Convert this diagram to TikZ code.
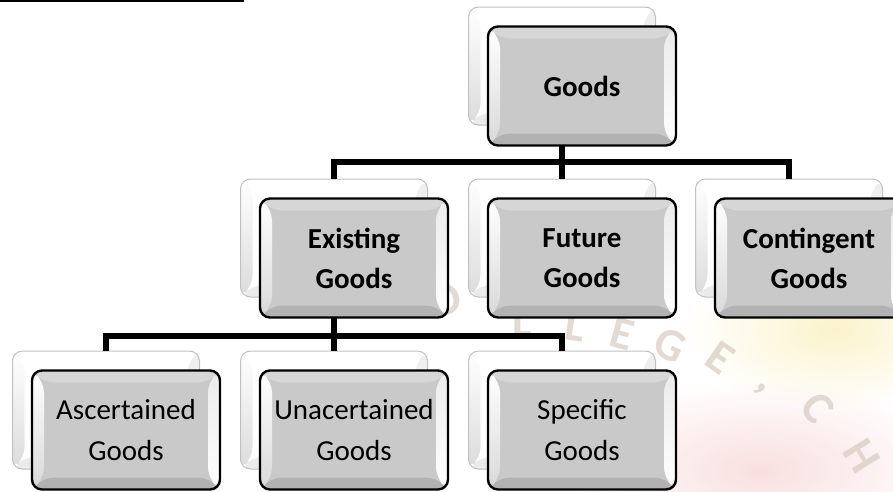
\documentclass[tikz,border=0pt]{standalone}
\usepackage{fontspec}
\setmainfont{Carlito}
\usetikzlibrary{calc,fadings}
\definecolor{face}{HTML}{C9C9C9}
\definecolor{bandtop}{HTML}{D6D6D6}
\definecolor{bandbot}{HTML}{B2B2B2}
\definecolor{backedge}{HTML}{C0C0C0}
\definecolor{wmark}{HTML}{D6CBC0}
\definecolor{wmpink}{HTML}{F6D2D2}
\definecolor{wmyellow}{HTML}{FBF3CC}
\tikzfading[name=softcirc, inner color=transparent!0, outer color=transparent!100]
\tikzset{
  bevelfront/.style={path picture={
    \coordinate (nw) at (path picture bounding box.north west);
    \coordinate (ne) at (path picture bounding box.north east);
    \coordinate (sw) at (path picture bounding box.south west);
    \coordinate (se) at (path picture bounding box.south east);
    \fill[bandtop] (nw) -- (ne) -- ([shift={(-12,12)}]ne) -- ([shift={(12,12)}]nw) -- cycle;
    \fill[bandbot] (sw) -- (se) -- ([shift={(-12,-12)}]se) -- ([shift={(12,-12)}]sw) -- cycle;
    \shade[top color=white, bottom color=black!15] (nw) -- (sw) -- ([shift={(12,-12)}]sw) -- ([shift={(12,12)}]nw) -- cycle;
    \shade[top color=black!8, bottom color=white] (ne) -- (se) -- ([shift={(-12,-12)}]se) -- ([shift={(-12,12)}]ne) -- cycle;
  }},
  bevelback/.style={path picture={
    \coordinate (nw) at (path picture bounding box.north west);
    \coordinate (ne) at (path picture bounding box.north east);
    \coordinate (sw) at (path picture bounding box.south west);
    \coordinate (se) at (path picture bounding box.south east);
    \fill[black!8] (sw) -- (se) -- ([shift={(-12,-12)}]se) -- ([shift={(12,-12)}]sw) -- cycle;
    \shade[top color=white, bottom color=black!14] (nw) -- (sw) -- ([shift={(12,-12)}]sw) -- ([shift={(12,12)}]nw) -- cycle;
    \shade[top color=black!7, bottom color=white] (ne) -- (se) -- ([shift={(-12,-12)}]se) -- ([shift={(-12,12)}]ne) -- cycle;
  }},
  frontbox/.style={rectangle, rounded corners=10pt, minimum width=188pt, minimum height=119pt,
    inner sep=0pt, fill=face, draw=black, line width=2.4pt, align=center, bevelfront,
    font=\fontsize{29}{41}\selectfont},
  boldbox/.style={frontbox, font=\bfseries\fontsize{29}{40}\selectfont},
  backbox/.style={rectangle, rounded corners=10pt, minimum width=187pt, minimum height=118pt,
    inner sep=0pt, fill=white, draw=backedge, line width=1pt, bevelback},
  link/.style={draw=black, line width=5.5pt},
  wm/.style={text=wmark, inner sep=0pt, font=\bfseries\fontsize{46}{46}\selectfont, opacity=0.7}
}
\begin{document}
\begin{tikzpicture}[x=1pt,y=-1pt]
\useasboundingbox (0,0) rectangle (893,491);
\clip (0,0) rectangle (893,491);
% faint watermark background
\fill[wmyellow, path fading=softcirc] (835,330) ellipse (150 and 80);
\fill[wmpink, opacity=0.7, path fading=softcirc] (760,470) ellipse (200 and 90);
\node[wm, rotate=10] (w1) at (445,300) {O};
\node[wm, rotate=0] (w2) at (522,322) {L};
\node[wm, rotate=-8] (w3) at (575,326) {L};
\node[wm, rotate=-15] (w4) at (622,334) {E};
\node[wm, rotate=-25] (w5) at (670,345) {G};
\node[wm, rotate=-35] (w6) at (720,358) {E};
\node[wm, rotate=-45] (w7) at (760,390) {,};
\node[wm, rotate=-52] (w8) at (818,408) {C};
\node[wm, rotate=-58] (w9) at (862,456) {H};
% title underline (cut off)
\coordinate (ul1) at (0,1);
\coordinate (ul2) at (244,1);
\draw[line width=2pt] (ul1) -- (ul2);
% back boxes
\node[backbox] (goodsB) at (562,66) {};
\node[backbox] (existB) at (334,238) {};
\node[backbox] (futB) at (562,238) {};
\node[backbox] (contB) at (789,238) {};
\node[backbox] (ascB) at (106,410) {};
\node[backbox] (unaB) at (334,410) {};
\node[backbox] (specB) at (562,410) {};
% connectors
\coordinate (bar1) at (562,162);
\coordinate (bar2) at (334,336);
\draw[link] (goodsB.south) -- (bar1);
\draw[link] (existB.north) |- (bar1) -| (contB.north);
\draw[link] (futB.north) -- (bar1);
\draw[link] (existB.south) -- (bar2);
\draw[link] (ascB.north) |- (bar2) -| (specB.north);
\draw[link] (unaB.north) -- (bar2);
% front boxes
\node[boldbox] (goods) at (582,86) {Goods};
\node[boldbox] (exist) at (354,258) {Existing\\Goods};
\node[boldbox] (fut) at (582,258) {Future\\Goods};
\node[boldbox] (cont) at (809,258) {Contingent\\Goods};
\node[frontbox] (asc) at (126,430) {Ascertained\\Goods};
\node[frontbox] (una) at (354,430) {Unacertained\\Goods};
\node[frontbox] (spec) at (582,430) {Specific\\Goods};
\end{tikzpicture}
\end{document}
